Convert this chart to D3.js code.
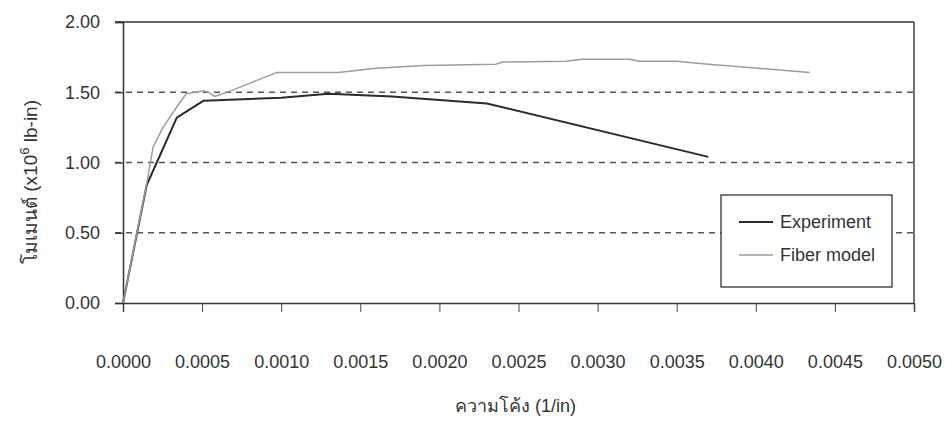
<!DOCTYPE html>
<meta charset="utf-8">
<style>
  body { margin: 0; background: #fff; }
  text { font-family: "Liberation Sans", Arial, sans-serif; fill: #333; }
</style>
<body>
<script src="https://d3js.org/d3.v7.min.js"></script>
<script>
    var width = 945,
        height = 421,
        margin = {top: 22, right: 31, bottom: 118, left: 123};

    // curvature (1/in), moment (x10^6 lb-in)
    var expX = [0, 0.00015, 0.00034, 0.00051, 0.0010, 0.0013, 0.0017, 0.0023, 0.0037];
    var expY = [0, 0.84, 1.32, 1.44, 1.46, 1.49, 1.47, 1.42, 1.04];

    var fibX = [0, 0.00015, 0.00019, 0.00025, 0.00034, 0.0004, 0.00051, 0.00054, 0.00058, 0.00068, 0.00097,
                0.00136, 0.0016, 0.0019, 0.00236, 0.0024, 0.0028, 0.0029, 0.0032, 0.00327, 0.0035, 0.0037, 0.00434];
    var fibY = [0, 0.85, 1.11, 1.245, 1.395, 1.49, 1.51, 1.50, 1.47, 1.51, 1.64,
                1.64, 1.67, 1.69, 1.70, 1.715, 1.72, 1.735, 1.735, 1.72, 1.72, 1.70, 1.64];

    var xTicks = d3.range(0, 11).map(i => i * 0.0005);
    var yTicks = [0, 0.5, 1.0, 1.5, 2.0];
    var gridY = [0.5, 1.0, 1.5];

    var series = [
        {name: 'Experiment', x: expX, y: expY, color: '#2b2b2b', w: 2},
        {name: 'Fiber model', x: fibX, y: fibY, color: '#9d9d9d', w: 1.5}
    ];

    var w = width - margin.left - margin.right,
        h = height - margin.top - margin.bottom;

    var svg = d3.select('body').append('svg')
        .attr('width', width)
        .attr('height', height);

    var g = svg.append('g')
        .attr('transform', `translate(${margin.left},${margin.top})`);

    var x = d3.scaleLinear().domain([0, 0.005]).range([0, w]);
    var y = d3.scaleLinear().domain([0, 2]).range([h, 0]);

    // dashed grid
    g.selectAll('.grid')
        .data(gridY)
        .enter().append('line')
        .attr('x1', -8).attr('x2', w)
        .attr('y1', d => y(d)).attr('y2', d => y(d))
        .attr('stroke', '#555')
        .attr('stroke-width', 1.3)
        .attr('stroke-dasharray', '6,5');

    // frame: top and right
    g.append('line').attr('x1', -8).attr('x2', w).attr('y1', 0).attr('y2', 0)
        .attr('stroke', '#333').attr('stroke-width', 1.5);
    g.append('line').attr('x1', w).attr('x2', w).attr('y1', 0).attr('y2', h)
        .attr('stroke', '#444').attr('stroke-width', 1.5);

    var yAxis = g.append('g')
        .call(d3.axisLeft(y).tickValues(yTicks).tickSize(8).tickPadding(15)
            .tickFormat(d3.format('.2f')));
    yAxis.select('.domain').attr('stroke', '#333').attr('stroke-width', 1.5);
    yAxis.selectAll('.tick line').attr('stroke', '#333').attr('stroke-width', 1.3);
    yAxis.selectAll('text').style('font-size', '18px').attr('fill', '#333');

    var xAxis = g.append('g')
        .attr('transform', `translate(0,${h})`)
        .call(d3.axisBottom(x).tickValues(xTicks).tickSize(9).tickPadding(43)
            .tickFormat(d3.format('.4f')));
    xAxis.select('.domain').attr('stroke', '#333').attr('stroke-width', 1.5);
    xAxis.selectAll('.tick line').attr('stroke', '#444').attr('stroke-width', 1);
    xAxis.selectAll('text').style('font-size', '18px').attr('fill', '#333');

    var line = d3.line()
        .x(d => x(d[0]))
        .y(d => y(d[1]));

    g.selectAll('.series')
        .data(series)
        .enter().append('path')
        .attr('d', s => line(s.x.map((v, i) => [v, s.y[i]])))
        .attr('fill', 'none')
        .attr('stroke', s => s.color)
        .attr('stroke-width', s => s.w)
        .attr('stroke-linejoin', 'round');

    // axis titles
    svg.append('text')
        .attr('x', margin.left + w / 2 - 3)
        .attr('y', 412)
        .attr('text-anchor', 'middle')
        .style('font-size', '18px')
        .text('ความโค้ง (1/in)');

    var yt = svg.append('text')
        .attr('transform', 'translate(37,182) rotate(-90)')
        .attr('text-anchor', 'middle')
        .style('font-size', '19px');
    yt.append('tspan').text('โมเมนต์ (x10');
    yt.append('tspan').attr('dy', -8).style('font-size', '13px').text('6');
    yt.append('tspan').attr('dy', 8).text(' lb-in)');

    // legend
    var leg = svg.append('g').attr('transform', 'translate(721,195)');
    leg.append('rect')
        .attr('width', 171).attr('height', 92)
        .attr('fill', '#fff')
        .attr('stroke', '#333').attr('stroke-width', 1.3);
    var item = leg.selectAll('.item')
        .data(series)
        .enter().append('g')
        .attr('transform', (d, i) => `translate(0,${27 + i * 33})`);
    item.append('line')
        .attr('x1', 18).attr('x2', 52)
        .attr('stroke', d => d.color)
        .attr('stroke-width', d => d.w);
    item.append('text')
        .attr('x', 59).attr('dy', '0.35em')
        .style('font-size', '18px')
        .text(d => d.name);
</script>
</body>
